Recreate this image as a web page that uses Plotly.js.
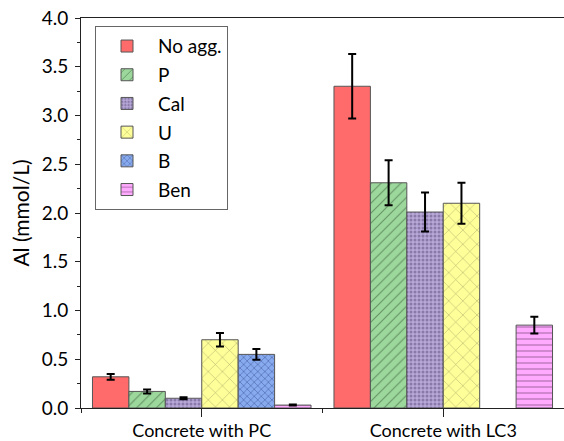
<!DOCTYPE html>
<html>
<head>
<meta charset="utf-8">
<script src="https://cdn.plot.ly/plotly-3.0.1.min.js"></script>
<style>html,body{margin:0;padding:0;background:#fff}#chart{width:564px;height:441px}</style>
</head>
<body>
<div id="chart"></div>
<script>
const categories = ["Concrete with PC", "Concrete with LC3"];
const seriesNames = ["No agg.", "P", "Cal", "U", "B", "Ben"];
const noAgg = [0.32, 3.30];
const noAggErr = [0.03, 0.33];
const pAgg = [0.17, 2.31];
const pAggErr = [0.02, 0.23];
const calAgg = [0.10, 2.01];
const calAggErr = [0.01, 0.20];
const uAgg = [0.70, 2.10];
const uAggErr = [0.07, 0.21];
const bAgg = [0.55, null];
const bAggErr = [0.055, null];
const benAgg = [0.03, 0.85];
const benAggErr = [0.005, 0.085];
const yTicks = [0, 0.5, 1, 1.5, 2, 2.5, 3, 3.5, 4];

const values = [noAgg, pAgg, calAgg, uAgg, bAgg, benAgg];
const errors = [noAggErr, pAggErr, calAggErr, uAggErr, bAggErr, benAggErr];
const styles = [
  {bg: "#ff6b6b", shape: "", fg: "#ff6b6b", size: 8, sol: 0.3},
  {bg: "#9cd89c", shape: "/", fg: "#2f4a2f", size: 7, sol: 0.16},
  {bg: "#b7a8d8", shape: ".", fg: "#5a4a7a", size: 4, sol: 0.45},
  {bg: "#ffff99", shape: "x", fg: "#55553a", size: 10, sol: 0.1},
  {bg: "#88aaee", shape: "x", fg: "#2c4888", size: 5, sol: 0.3},
  {bg: "#ffaaff", shape: "-", fg: "#704070", size: 6, sol: 0.22}
];
const xPos = categories.map((c, i) => i + 1);

const traces = seriesNames.map((name, k) => ({
  type: "bar",
  name: name,
  x: xPos,
  y: values[k],
  legendgroup: "g" + k,
  marker: {
    color: styles[k].bg,
    line: {color: "#555555", width: 1},
    pattern: {shape: styles[k].shape, fgcolor: styles[k].fg, bgcolor: styles[k].bg,
              size: styles[k].size, solidity: styles[k].sol, fillmode: "overlay"}
  },
  error_y: {type: "data", array: errors[k], visible: true, color: "#000", thickness: 2, width: 4}
}));

const layout = {
  width: 564, height: 441,
  margin: {l: 81, r: 0, t: 18, b: 33},
  paper_bgcolor: "#fff", plot_bgcolor: "#fff",
  font: {family: "Lato, 'Open Sans', sans-serif", size: 19, color: "#000"},
  barmode: "group",
  bargap: 0.095,
  bargroupgap: 0,
  showlegend: true,
  legend: {
    x: 0.029, y: 0.979, xanchor: "left", yanchor: "top",
    bordercolor: "#666", borderwidth: 1, bgcolor: "#fff",
    font: {size: 19}, traceorder: "grouped", tracegroupgap: 1,
    itemwidth: 52
  },
  xaxis: {
    range: [0.5, 2.5],
    tickvals: xPos, ticktext: categories,
    ticks: "outside", ticklen: 8, tickcolor: "#222",
    minor: {tick0: 0.5, dtick: 0.5, ticks: "outside", ticklen: 4, tickcolor: "#222"},
    showline: true, linecolor: "#222", linewidth: 1, mirror: true,
    showgrid: false, zeroline: false,
    tickfont: {size: 18}, ticklabelstandoff: -2
  },
  yaxis: {
    range: [0, 4],
    tickvals: yTicks, tickformat: ".1f",
    ticks: "outside", ticklen: 5, tickcolor: "#222",
    minor: {dtick: 0.25, ticks: "outside", ticklen: 3, tickcolor: "#222"},
    showline: true, linecolor: "#222", linewidth: 1,
    showgrid: false, zeroline: false,
    tickfont: {size: 19}, ticklabelstandoff: 3,
    title: {text: "Al (mmol/L)", font: {size: 21}, standoff: 6}
  }
};

Plotly.newPlot("chart", traces, layout, {displayModeBar: false, staticPlot: true});
</script>
</body>
</html>
